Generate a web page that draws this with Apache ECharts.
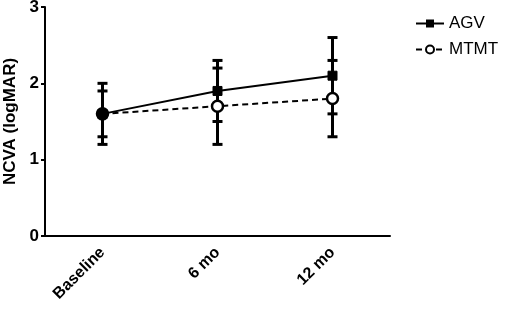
<!DOCTYPE html>
<html>
<head>
<meta charset="utf-8">
<script src="https://cdn.jsdelivr.net/npm/echarts@6/dist/echarts.min.js"></script>
<style>html,body{margin:0;padding:0;background:#fff}#c{width:510px;height:314px}</style>
</head>
<body>
<div id="c"></div>
<script>
var categories = ['Baseline', '6 mo', '12 mo'];
var agvMean = [1.6, 1.9, 2.1];
var agvLow = [1.2, 1.5, 1.6];
var agvHigh = [2.0, 2.3, 2.6];
var mtmtMean = [1.6, 1.7, 1.8];
var mtmtLow = [1.3, 1.2, 1.3];
var mtmtHigh = [1.9, 2.2, 2.3];
var yTicks = [0, 1, 2, 3];

function errData(low, high) {
  return categories.map(function (c, i) { return [i, low[i], high[i]]; });
}
function errRender(params, api) {
  var x = api.value(0);
  var lo = api.coord([x, api.value(1)]);
  var hi = api.coord([x, api.value(2)]);
  var w = 5;
  var st = { stroke: '#000', lineWidth: 3 };
  return {
    type: 'group',
    children: [
      { type: 'line', shape: { x1: lo[0], y1: lo[1], x2: hi[0], y2: hi[1] }, style: st },
      { type: 'line', shape: { x1: lo[0] - w, y1: lo[1], x2: lo[0] + w, y2: lo[1] }, style: st },
      { type: 'line', shape: { x1: hi[0] - w, y1: hi[1], x2: hi[0] + w, y2: hi[1] }, style: st }
    ]
  };
}
// baseline point overlaps with AGV and is drawn filled in the reference
var mtmtData = mtmtMean.map(function (v, i) {
  return i === 0 ? { value: v, itemStyle: { color: '#000' } } : v;
});
var chart = echarts.init(document.getElementById('c'));
chart.setOption({
  animation: false,
  backgroundColor: '#fff',
  grid: { left: 45, top: 7, right: 120, bottom: 78, containLabel: false, outerBoundsMode: 'none' },
  legend: {
    orient: 'vertical', left: 410, top: 10, itemGap: 9,
    itemWidth: 28, itemHeight: 10,
    textStyle: { fontFamily: 'Liberation Sans, Arial', fontSize: 17, color: '#000' },
    data: ['AGV', 'MTMT']
  },
  xAxis: {
    type: 'category', data: categories, boundaryGap: true,
    axisLine: { lineStyle: { color: '#000', width: 2 } },
    axisTick: { alignWithLabel: true, length: 6, lineStyle: { color: '#000', width: 2 } },
    axisLabel: { rotate: 45, color: '#000', fontWeight: 'bold', fontSize: 16, fontFamily: 'Liberation Sans, Arial', margin: 14 }
  },
  yAxis: {
    type: 'value', min: 0, max: 3, interval: 1,
    name: 'NCVA (logMAR)', nameLocation: 'middle', nameGap: 26,
    nameTextStyle: { fontWeight: 'bold', fontSize: 17, fontFamily: 'Liberation Sans, Arial', color: '#000' },
    splitLine: { show: false },
    axisLine: { show: true, lineStyle: { color: '#000', width: 2 } },
    axisTick: { show: true, length: 4, lineStyle: { color: '#000', width: 2 } },
    axisLabel: { color: '#000', fontWeight: 'bold', fontSize: 17, fontFamily: 'Liberation Sans, Arial', margin: 6,
      formatter: function (v) { return yTicks.indexOf(v) >= 0 ? String(v) : ''; } }
  },
  series: [
    { type: 'custom', renderItem: errRender, data: errData(agvLow, agvHigh), z: 1, silent: true },
    { type: 'custom', renderItem: errRender, data: errData(mtmtLow, mtmtHigh), z: 1, silent: true },
    {
      name: 'MTMT', type: 'line', data: mtmtData, z: 3,
      symbol: 'circle', symbolSize: 11,
      lineStyle: { color: '#000', width: 2, type: [6, 4] },
      itemStyle: { color: '#fff', borderColor: '#000', borderWidth: 2.5 }
    },
    {
      name: 'AGV', type: 'line', data: agvMean, z: 4,
      symbol: 'rect', symbolSize: 9,
      lineStyle: { color: '#000', width: 2 },
      itemStyle: { color: '#000', borderColor: '#000' }
    }
  ]
});
</script>
</body>
</html>
